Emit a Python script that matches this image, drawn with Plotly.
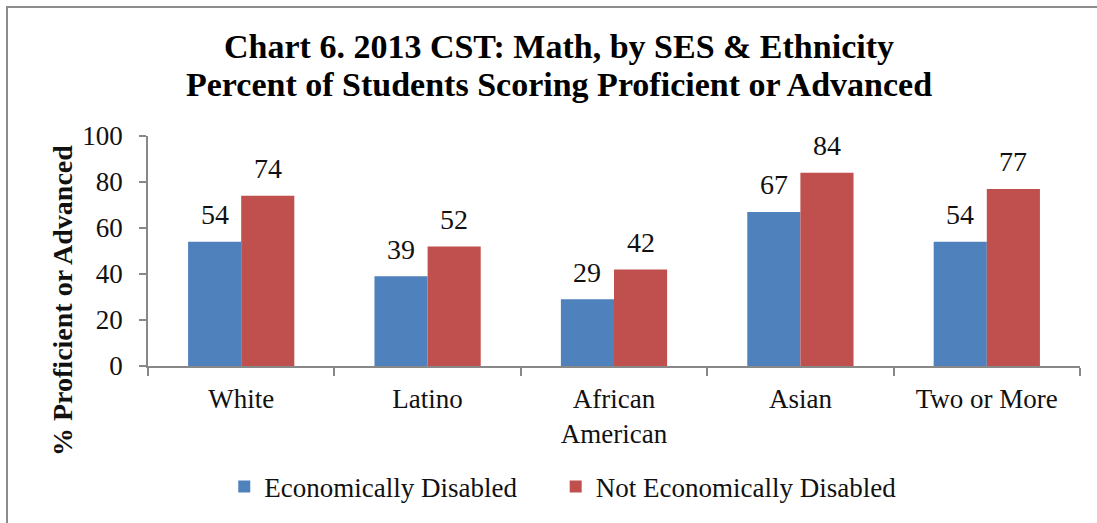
import plotly.graph_objects as go

categories = ["White", "Latino", "African<br>American", "Asian", "Two or More"]
econ_disabled = [54, 39, 29, 67, 54]
not_econ_disabled = [74, 52, 42, 84, 77]
y_ticks = [0, 20, 40, 60, 80, 100]
series_names = ["Economically Disabled", "Not Economically Disabled"]
colors = ["#4F81BD", "#C0504D"]

SERIF = "Liberation Serif"
W, H = 1097, 523
L, R, T, B = 148, 1080, 136, 366  # plot area in pixels
PW, PH = R - L, B - T


def px(x):
    return (x - L) / PW


def py(y):
    return (B - y) / PH


fig = go.Figure()
legend_pad = ["&nbsp;" * 5, ""]
for name, vals, col, pad in zip(series_names, [econ_disabled, not_econ_disabled], colors, legend_pad):
    fig.add_trace(go.Bar(
        x=categories, y=vals, name=name + pad,
        marker=dict(color=col, line=dict(width=0)),
    ))

# data labels above bars
bar_w = PW / len(categories) * (1 - 0.43) / 2
for vals, shift in [(econ_disabled, -bar_w / 2), (not_econ_disabled, bar_w / 2)]:
    for c, v in zip(categories, vals):
        fig.add_annotation(
            x=c, y=v, xref="x", yref="y", text=str(v), showarrow=False,
            xshift=shift, yshift=27, xanchor="center", yanchor="middle",
            font=dict(family=SERIF, size=28, color="#111111"),
        )

# title as two lines
title_lines = ["<b>Chart 6. 2013 CST: Math, by SES & Ethnicity</b>",
               "<b>Percent of Students Scoring Proficient or Advanced</b>"]
for line, yc in zip(title_lines, [46, 85]):
    fig.add_annotation(
        x=px(558.5), y=py(yc), xref="paper", yref="paper", text=line,
        showarrow=False, xanchor="center", yanchor="middle",
        font=dict(family=SERIF, size=34, color="#000000"),
    )

# y-axis title
fig.add_annotation(
    x=px(62), y=py(301), xref="paper", yref="paper",
    text="<b>% Proficient or Advanced</b>", textangle=-90, showarrow=False,
    xanchor="center", yanchor="middle",
    font=dict(family=SERIF, size=28, color="#111111"),
)

fig.update_layout(
    width=W, height=H,
    paper_bgcolor="white", plot_bgcolor="white",
    barmode="group", bargap=0.43, bargroupgap=0,
    margin=dict(l=L, r=W - R, t=T, b=H - B, autoexpand=False),
    font=dict(family=SERIF, color="#111111"),
    showlegend=True,
    legend=dict(
        orientation="h", x=0.513, xanchor="center", xref="container",
        y=1 - 487 / H, yanchor="middle", yref="container",
        font=dict(family=SERIF, size=27, color="#111111"),
        itemwidth=30, traceorder="normal",
    ),
)
fig.update_yaxes(
    range=[0, 100], tickvals=y_ticks, showgrid=False, zeroline=False,
    showline=True, linecolor="#888888", linewidth=1.5,
    ticks="outside", ticklen=7, tickcolor="#888888", tickwidth=1.5,
    ticklabelstandoff=11,
    tickfont=dict(family=SERIF, size=27, color="#111111"),
    automargin=False,
)
fig.update_xaxes(
    showgrid=False, showline=True, linecolor="#888888", linewidth=1.5,
    ticks="outside", ticklen=8, tickcolor="#888888", tickwidth=1.5,
    tickson="boundaries", ticklabelstandoff=8,
    tickfont=dict(family=SERIF, size=27, color="#111111"),
    automargin=False,
)

# outer chart border (left and top edges)
fig.add_shape(type="line", xref="paper", yref="paper",
              x0=px(7), x1=px(7), y0=py(H + 2), y1=py(7),
              line=dict(color="#8C8C8C", width=2))
fig.add_shape(type="line", xref="paper", yref="paper",
              x0=px(6), x1=px(W + 2), y0=py(7), y1=py(7),
              line=dict(color="#8C8C8C", width=2))

fig.write_html("out.html", config={"displayModeBar": False},
               post_script="document.body.style.margin='0';")
